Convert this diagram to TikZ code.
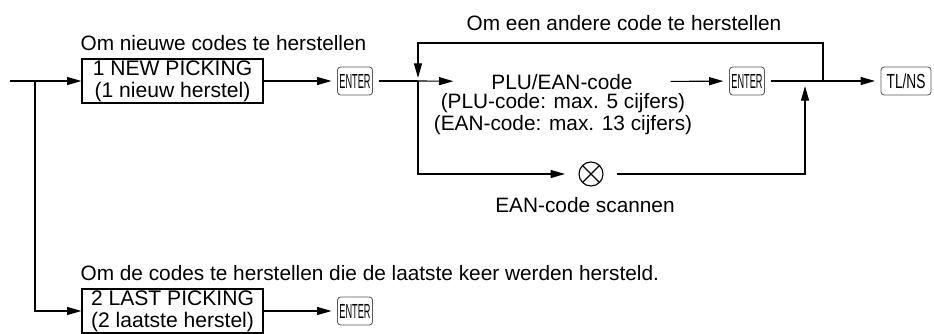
\documentclass[tikz,border=0pt]{standalone}
\usepackage{fontspec}
\usepackage{graphicx}
\setmainfont{Liberation Sans}
\usetikzlibrary{arrows.meta}
\begin{document}
\begin{tikzpicture}[
x=0.025cm, y=-0.025cm,
line width=0.8pt,
font=\fontsize{14.8}{15.6}\selectfont,
box/.style={draw, align=center, minimum width=4.525cm, minimum height=1.1cm, inner sep=0pt, font=\fontsize{15}{15.6}\selectfont},
keycap/.style={draw=black!65, line width=0.6pt, rounded corners=0.08cm, minimum height=0.7cm, inner sep=0pt, outer sep=0.15cm, font=\fontsize{14.5}{14.5}\selectfont},
note/.style={anchor=west, inner sep=0pt},
scanmark/.style={circle, draw, minimum size=0.6cm, inner sep=0pt, outer sep=0.35cm,
  path picture={\draw (path picture bounding box.north west) -- (path picture bounding box.south east)
    (path picture bounding box.north east) -- (path picture bounding box.south west);}},
arrow/.style={-{Triangle[length=3.6mm,width=2mm]}}
]
\useasboundingbox (0,0) rectangle (934,334);
\coordinate (start) at (10,81);
\coordinate (split) at (35,81);
\coordinate (loopin) at (418,81);
\coordinate (joinup) at (805,81);
\coordinate (loopout) at (823,81);
\coordinate (looptop) at (620,43);
\node[note] (newnote) at (80,43) {Om nieuwe codes te herstellen};
\node[box] (newpick) at (172.5,81) {1 NEW PICKING\\(1 nieuw herstel)};
\node[keycap, minimum width=0.875cm] (enterA) at (355,81) {\scalebox{0.45}[1]{ENTER}};
\node (othernote) at (624,23) {Om een andere code te herstellen};
\node[minimum width=5.4cm, inner sep=0pt] (plu) at (562,82) {PLU/EAN-code};
\node[align=center, inner sep=0pt] (plurange) at (563,114) {(PLU-code: max. 5 cijfers)\\(EAN-code: max. 13 cijfers)};
\node[keycap, minimum width=0.875cm] (enterB) at (747,81) {\scalebox{0.45}[1]{ENTER}};
\node[keycap, minimum width=1.25cm] (tlns) at (906,81) {\scalebox{0.67}[1]{TL/NS}};
\node[scanmark] (scan) at (591,174) {};
\node (scannote) at (585,205) {EAN-code scannen};
\node[note] (lastnote) at (80,273) {Om de codes te herstellen die de laatste keer werden hersteld.};
\node[box] (lastpick) at (172.5,311) {2 LAST PICKING\\(2 laatste herstel)};
\node[keycap, minimum width=0.875cm] (enterC) at (355,311) {\scalebox{0.45}[1]{ENTER}};
\draw[arrow] (start) -- (newpick);
\draw[arrow] (split) |- (lastpick);
\draw[arrow] (newpick) -- (enterA);
\draw (enterA) -- (loopin);
\draw[arrow] (loopin) -- (plu);
\draw[arrow] (plu) -- (enterB);
\draw[arrow] (enterB) -- (tlns);
\draw[arrow, shorten >=0.08cm] (loopout) |- (looptop) -| (loopin);
\draw[arrow] (loopin) |- (scan);
\draw[arrow, shorten >=0.13cm] (scan) -| (joinup);
\draw[arrow] (lastpick) -- (enterC);
\end{tikzpicture}
\end{document}
